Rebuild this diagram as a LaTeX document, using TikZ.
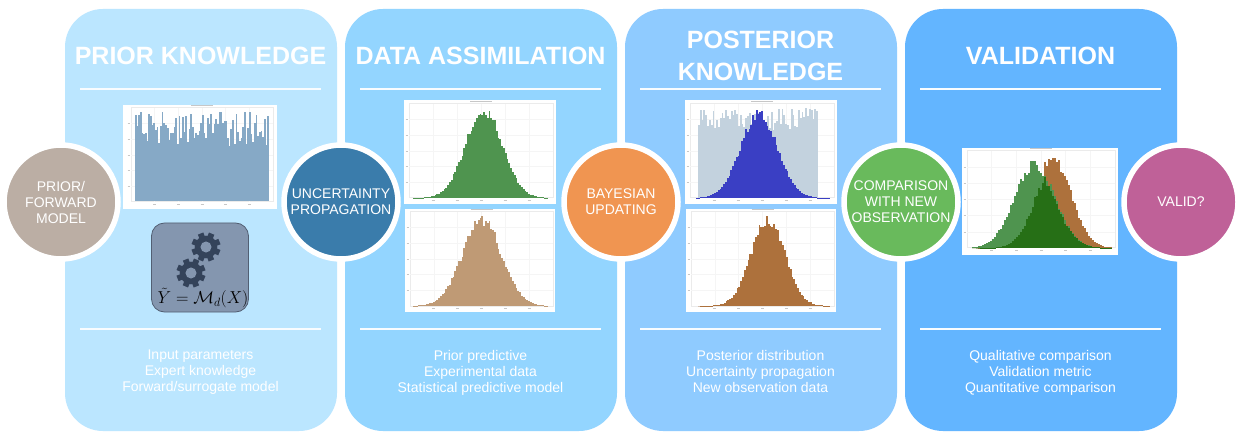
\documentclass[tikz,border=0pt]{standalone}
\usepackage{fontspec}
\setmainfont{Liberation Sans}
\usepackage{amsmath}
\usetikzlibrary{positioning}

\definecolor{panelone}{HTML}{BBE6FF}
\definecolor{paneltwo}{HTML}{93D5FF}
\definecolor{panelthree}{HTML}{8FCBFF}
\definecolor{panelfour}{HTML}{63B5FF}
\definecolor{histblue}{HTML}{86A9C6}
\definecolor{histgreen}{HTML}{4F944F}
\definecolor{histtan}{HTML}{BF9A75}
\definecolor{histbrown}{HTML}{AD713C}
\definecolor{histroyal}{HTML}{3A3FC4}
\definecolor{histpale}{HTML}{C3D2DE}
\definecolor{histdark}{HTML}{266F16}
\definecolor{gearcol}{HTML}{34435A}
\definecolor{panelgear}{HTML}{8496AF}
\definecolor{stepprior}{HTML}{BBAEA4}
\definecolor{stepprop}{HTML}{3A7CAB}
\definecolor{stepbayes}{HTML}{F09551}
\definecolor{stepcomp}{HTML}{69BA5C}
\definecolor{stepvalid}{HTML}{BF6198}

\tikzset{
  panel/.style={rounded corners=38pt, minimum width=272pt, minimum height=422pt, inner sep=0pt, outer sep=0pt},
  heading/.style={font=\fontsize{25}{32}\selectfont\bfseries, text=white, align=center},
  listtext/.style={font=\fontsize{14}{16}\selectfont, text=white, align=center, anchor=north},
  rulebar/.style={draw=white!90!panelone, line width=2pt},
  stepdot/.style={circle, draw=white, line width=5.5pt, minimum size=114pt, inner sep=0pt,
    text=white, align=center, font=\fontsize{14}{16}\selectfont},
  plotbox/.style={fill=white, inner sep=0pt, anchor=north west}
}

% bars of a noisy bell curve: left, base, width, height, mu, sigma, bars, colour
\newcommand{\bellbars}[8]{
  \pgfmathsetmacro{\barw}{#3/#7}
  \foreach \i in {1,...,#7} {
    \pgfmathsetmacro{\u}{(\i-0.5)/#7}
    \pgfmathsetmacro{\v}{exp(-(\u-#5)*(\u-#5)/(2*#6*#6))*(0.86+0.14*rnd)}
    \fill[#8] (#1+\i*\barw-\barw,#2) rectangle ++(\barw,-#4*\v);
  }
}
% overlap of two bell curves: left, base, width, height, mu1, sigma1, mu2, sigma2
\newcommand{\overlapbars}[8]{
  \pgfmathsetmacro{\barw}{#3/70}
  \foreach \i in {1,...,70} {
    \pgfmathsetmacro{\u}{(\i-0.5)/70}
    \pgfmathsetmacro{\v}{min(exp(-(\u-#5)*(\u-#5)/(2*#6*#6)),exp(-(\u-#7)*(\u-#7)/(2*#8*#8)))*(0.86+0.14*rnd)}
    \fill[histdark] (#1+\i*\barw-\barw,#2) rectangle ++(\barw,-#4*\v);
  }
}
% bars of a flat noisy histogram: left, base, width, height, bars, floor, colour
\newcommand{\flatbars}[7]{
  \pgfmathsetmacro{\barw}{#3/#5}
  \foreach \i in {1,...,#5} {
    \pgfmathsetmacro{\v}{#6+(1-#6)*rnd}
    \fill[#7] (#1+\i*\barw-\barw,#2) rectangle ++(\barw,-#4*\v);
  }
}
% light frame, grid and tick marks of a plot
\newcommand{\plotgrid}[4]{
  \draw[black!8, line width=1pt] (#1,#2) rectangle (#3,#4);
  \draw[black!22, line width=1pt] ({(#1+#3)/2-11},#2-2.5) -- ({(#1+#3)/2+11},#2-2.5);
  \foreach \k in {1,...,5} {
    \draw[black!4, line width=0.5pt] ({#1+(#3-#1)*\k/6},#2) -- ({#1+(#3-#1)*\k/6},#4);
    \draw[black!4, line width=0.5pt] (#1,{#2+(#4-#2)*\k/6}) -- (#3,{#2+(#4-#2)*\k/6});
    \draw[black!22, line width=0.6pt] (#1-3.5,{#2+(#4-#2)*\k/6}) -- (#1-1,{#2+(#4-#2)*\k/6});
    \draw[black!22, line width=0.6pt] ({#1+(#3-#1)*\k/6-1.5},#4+2.5) -- ({#1+(#3-#1)*\k/6+1.5},#4+2.5);
  }
}
% gear: centre, radius
\newcommand{\gearshape}[3]{
  \fill[gearcol] (#1,#2) circle (#3*0.78);
  \foreach \a in {0,45,...,315}
    \fill[gearcol, rotate around={\a+22:(#1,#2)}] (#1-#3*0.2,#2) rectangle (#1+#3*0.2,#2-#3);
  \fill[panelgear] (#1,#2) circle (#3*0.38);
}

\begin{document}
\begin{tikzpicture}[x=1pt, y=-1pt]
  \useasboundingbox (0,0) rectangle (1241,438);
  \fill[white] (0,0) rectangle (1241,438);
  \pgfmathsetseed{4217}

  % panels
  \node[panel, fill=panelone] (priorpanel) at (201,220) {};
  \node[panel, fill=paneltwo, right=8pt of priorpanel] (datapanel) {};
  \node[panel, fill=panelthree, right=8pt of datapanel] (postpanel) {};
  \node[panel, fill=panelfour, right=8pt of postpanel] (validpanel) {};

  % headings
  \node[heading] (priorhead) at (200.5,56) {PRIOR KNOWLEDGE};
  \node[heading] (datahead) at (480.5,56) {DATA ASSIMILATION};
  \node[heading] (posthead) at (760.5,56) {POSTERIOR\\KNOWLEDGE};
  \node[heading] (validhead) at (1040.5,56) {VALIDATION};

  % rules
  \foreach \cx in {200.5,480.5,760.5,1040.5} {
    \draw[rulebar] (\cx-120.5,89.5) -- (\cx+120.5,89.5);
    \draw[rulebar] (\cx-120.5,329) -- (\cx+120.5,329);
  }

  % plots of the first panel
  \node[plotbox, minimum width=154pt, minimum height=104pt] (uniformplot) at (123,105) {};
  \plotgrid{131}{108}{273}{202}
  \flatbars{135}{201.5}{134}{90}{80}{0.62}{histblue}

  % model box
  \node[rounded corners=13pt, fill=panelgear, draw=gearcol!85, line width=0.8pt,
        minimum width=97pt, minimum height=89pt, inner sep=0pt] (modelbox) at (200,267.5) {};
  \gearshape{206}{247}{14.5}
  \gearshape{191}{273}{14.5}
  \node[font=\fontsize{16.5}{18}\selectfont, text=black] (modeltext) at (203,298) {$\tilde{Y} = \mathcal{M}_d(X)$};

  % plots of the second panel
  \node[plotbox, minimum width=152pt, minimum height=104pt] (predplot) at (404,100) {};
  \plotgrid{409}{104}{553}{198}
  \bellbars{413}{198}{135}{94}{0.526}{0.137}{75}{histgreen}
  \node[plotbox, minimum width=150pt, minimum height=103pt] (obsplot) at (405,209) {};
  \plotgrid{410}{212}{553}{306}
  \bellbars{413}{306}{135}{93}{0.51}{0.145}{75}{histtan}

  % plots of the third panel
  \node[plotbox, minimum width=152pt, minimum height=104pt] (postplot) at (685,100) {};
  \plotgrid{690}{104}{834}{198}
  \flatbars{698}{198}{120}{90}{66}{0.76}{histpale}
  \bellbars{696}{198}{134}{89}{0.47}{0.137}{74}{histroyal}
  \node[plotbox, minimum width=150pt, minimum height=103pt] (newobsplot) at (686,209) {};
  \plotgrid{691}{212}{834}{306}
  \bellbars{698}{306}{132}{93}{0.53}{0.128}{72}{histbrown}

  % comparison plot
  \node[plotbox, minimum width=156pt, minimum height=107pt] (compareplot) at (962,148) {};
  \plotgrid{967}{151}{1115}{248}
  \bellbars{972}{248}{140}{95}{0.579}{0.13}{70}{histbrown}
  \bellbars{972}{248}{140}{89}{0.45}{0.145}{70}{histgreen}
  \overlapbars{972}{248}{140}{84}{0.45}{0.145}{0.579}{0.13}

  % steps
  \node[stepdot, fill=stepprior] (priorstep) at (61,202) {PRIOR/\\FORWARD\\MODEL};
  \node[stepdot, fill=stepprop] (upstep) at (341,202) {UNCERTAINTY\\PROPAGATION};
  \node[stepdot, fill=stepbayes] (bayesstep) at (621,202) {BAYESIAN\\UPDATING};
  \node[stepdot, fill=stepcomp] (comparestep) at (901,202) {COMPARISON\\WITH NEW\\OBSERVATION};
  \node[stepdot, fill=stepvalid] (validstep) at (1181,202) {VALID?};

  % lists
  \node[listtext] (priorlist) at (200.5,346.5) {Input parameters\\Expert knowledge\\Forward/surrogate model};
  \node[listtext] (datalist) at (480.5,346.5) {Prior predictive\\Experimental data\\Statistical predictive model};
  \node[listtext] (postlist) at (760.5,346.5) {Posterior distribution\\Uncertainty propagation\\New observation data};
  \node[listtext] (validlist) at (1040.5,346.5) {Qualitative comparison\\Validation metric\\Quantitative comparison};
\end{tikzpicture}
\end{document}
